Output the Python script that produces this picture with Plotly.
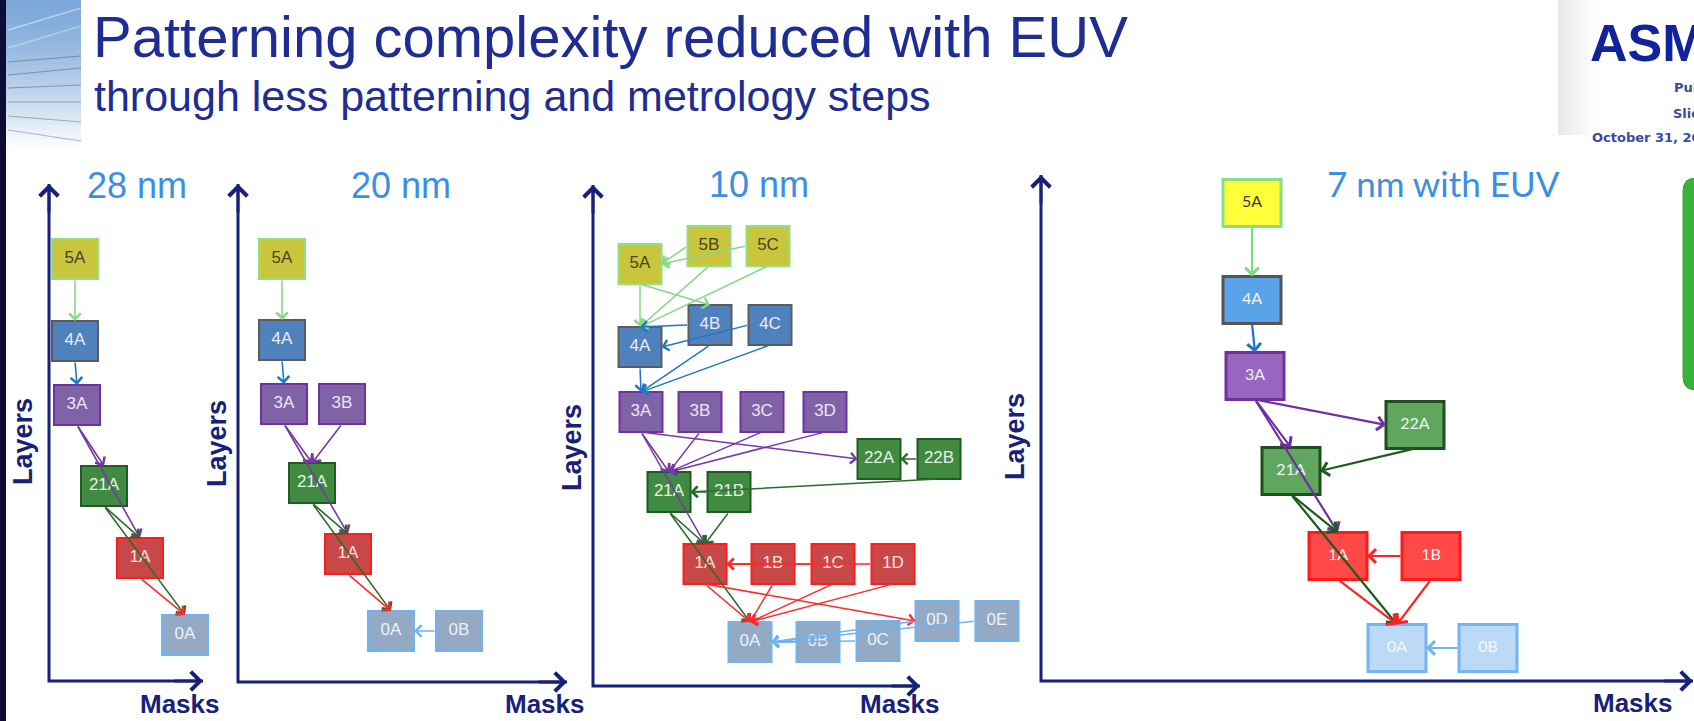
import plotly.graph_objects as go

W, H = 1694, 721
UNIT = 10.0  # pixels per data unit on every panel

# ---------------- data ----------------
# Each node: name, position along "Masks" and "Layers" (data units)
N28_NAMES = ["5A", "4A", "3A", "21A", "1A", "0A"]
N28_MASKS = [2.6, 2.6, 2.8, 5.5, 9.1, 13.6]
N28_LAYERS = [42.2, 34.0, 27.6, 19.5, 12.3, 4.6]
E28 = [("5A", "4A"), ("4A", "3A"), ("3A", "21A"), ("3A", "1A"),
       ("21A", "1A"), ("21A", "0A"), ("1A", "0A")]

N20_NAMES = ["5A", "4A", "3A", "3B", "21A", "1A", "0A", "0B"]
N20_MASKS = [4.4, 4.4, 4.6, 10.4, 7.4, 11.0, 15.3, 22.1]
N20_LAYERS = [42.3, 34.2, 27.8, 27.8, 19.9, 12.8, 5.1, 5.1]
E20 = [("5A", "4A"), ("4A", "3A"), ("3A", "21A"), ("3B", "21A"), ("3A", "1A"),
       ("21A", "1A"), ("21A", "0A"), ("1A", "0A"), ("0B", "0A")]

N10_NAMES = ["5A", "5B", "5C", "4A", "4B", "4C", "3A", "3B", "3C", "3D",
             "22A", "22B", "21A", "21B", "1A", "1B", "1C", "1D",
             "0A", "0B", "0C", "0D", "0E"]
N10_MASKS = [4.7, 11.6, 17.5, 4.7, 11.7, 17.7, 4.8, 10.7, 16.9, 23.2,
             28.6, 34.6, 7.6, 13.6, 11.2, 18.0, 24.0, 30.0,
             15.7, 22.5, 28.5, 34.4, 40.4]
N10_LAYERS = [42.2, 44.0, 44.0, 33.9, 36.1, 36.1, 27.4, 27.4, 27.4, 27.4,
              22.7, 22.7, 19.4, 19.4, 12.2, 12.2, 12.2, 12.2,
              4.4, 4.4, 4.5, 6.5, 6.5]
E10 = [("5B", "5A"), ("5C", "5A"), ("5A", "4A"), ("5B", "4A"), ("5C", "4A"), ("5A", "4B"),
       ("4B", "4A"), ("4C", "4A"), ("4A", "3A"), ("4B", "3A"), ("4C", "3A"),
       ("3A", "21A"), ("3B", "21A"), ("3C", "21A"), ("3D", "21A"), ("3A", "22A"), ("3A", "1A"),
       ("22B", "22A"), ("22B", "21A"), ("21B", "21A"), ("21A", "1A"), ("21B", "1A"), ("21A", "0A"),
       ("1B", "1A"), ("1C", "1A"), ("1D", "1A"), ("1A", "0A"), ("1B", "0A"), ("1C", "0A"),
       ("1D", "0A"), ("1A", "0D"),
       ("0B", "0A"), ("0C", "0A"), ("0D", "0A"), ("0E", "0A")]

N7_NAMES = ["5A", "4A", "3A", "22A", "21A", "1A", "1B", "0A", "0B"]
N7_MASKS = [21.1, 21.1, 21.4, 37.4, 25.0, 29.7, 39.0, 35.6, 44.7]
N7_LAYERS = [47.8, 38.1, 30.5, 25.6, 21.0, 12.5, 12.5, 3.3, 3.3]
E7 = [("5A", "4A"), ("4A", "3A"), ("3A", "21A"), ("3A", "22A"), ("22A", "21A"),
      ("3A", "1A"), ("21A", "1A"), ("21A", "0A"), ("1B", "1A"), ("1A", "0A"),
      ("1B", "0A"), ("0B", "0A")]

PANEL_TITLES = ["28 nm", "20 nm", "10 nm", "7 nm with EUV"]

PANEL_DATA = [
    (N28_NAMES, N28_MASKS, N28_LAYERS, E28),
    (N20_NAMES, N20_MASKS, N20_LAYERS, E20),
    (N10_NAMES, N10_MASKS, N10_LAYERS, E10),
    (N7_NAMES, N7_MASKS, N7_LAYERS, E7),
]

# ---------------- styling ----------------
NAVY = "#18217a"
TITLE_BLUE = "#1e2c93"
PANEL_BLUE = "#3a8fe3"

CLASSIC = {  # fill, border, label colour, edge colour
    "5": ("#c9c53c", "#8fe07e", "#47441e", "#86d886"),
    "4": ("#4f81bd", "#5c5c5c", "#e8eef8", "#1f77c4"),
    "3": ("#8063a6", "#7030a0", "#ece6f4", "#7638a8"),
    "2": ("#418a41", "#1f5c1f", "#e6f0e6", "#2c6a2c"),
    "1": ("#c84848", "#ff1c1c", "#f6e6e6", "#ff2a2a"),
    "0": ("#93a9c4", "#6fb3f0", "#eef2f8", "#6db4f0"),
}
EUV = {
    "5": ("#ffff3c", "#86e080", "#3a3a2a", "#78e078"),
    "4": ("#5ba3e8", "#555555", "#eef4fc", "#1a73c4"),
    "3": ("#9966c0", "#7030a0", "#f2ecf8", "#7030a0"),
    "2": ("#5fa65f", "#1e4f1e", "#eef6ee", "#1e5a1e"),
    "1": ("#ff4848", "#ff1a1a", "#fff0f0", "#ff2222"),
    "0": ("#bcd9f5", "#73b4f2", "#f4f9ff", "#6db4f0"),
}

PANEL_STYLE = [
    dict(corner=(49, 681), span=(0, 240), top=184, right=203, box=(46, 40),
         palette=CLASSIC, border=2, ew=1.6, es=1.4, font=("Liberation Sans", 17),
         title=(137, 185, "Liberation Sans", 36), layers=(23, 442), masks=(180, 704)),
    dict(corner=(238, 682), span=(200, 585), top=184, right=567, box=(46, 40),
         palette=CLASSIC, border=2, ew=1.6, es=1.4, font=("Liberation Sans", 17),
         title=(401, 185, "Liberation Sans", 36), layers=(217, 443), masks=(545, 704)),
    dict(corner=(593, 686), span=(560, 1030), top=185, right=920, box=(43, 40),
         palette=CLASSIC, border=2, ew=1.5, es=1.4, font=("Liberation Sans", 17),
         title=(759, 184, "Liberation Sans", 36), layers=(572, 448), masks=(900, 704)),
    dict(corner=(1041, 681), span=(1005, 1694), top=175, right=1693, box=(58, 47),
         palette=EUV, border=3, ew=2.2, es=1.2, font=("Lato", 16),
         title=(1443, 183, "Lato", 35), layers=(1015, 437), masks=(1633, 703)),
]

fig = go.Figure()
shapes, annotations, axes = [], [], {}


def px_x(px):
    return px / W


def px_y(py):
    return 1 - py / H


def edge_ports(s, d, hw, hh):
    sx, sy = s
    dx, dy = d
    if sy - dy > 1.2 * hh:
        tail = (sx, sy - hh)
    else:
        tail = (sx - hw if dx < sx else sx + hw, sy)
    vx, vy = dx - tail[0], tail[1] - dy
    if vy > hh and vy > 0.35 * abs(vx):
        head = (dx, dy + hh)
    else:
        head = (dx + hw if dx < tail[0] else dx - hw, dy)
    return tail, head


for i, ((names, masks, layers, edges), st) in enumerate(zip(PANEL_DATA, PANEL_STYLE)):
    k = "" if i == 0 else str(i + 1)
    xa, ya = "x" + k, "y" + k
    cx, cy = st["corner"]
    xl, xr = st["span"]
    yt, yb = 140, 721
    axes["xaxis" + k] = dict(domain=[px_x(xl), px_x(xr)], range=[(xl - cx) / UNIT, (xr - cx) / UNIT],
                             visible=False, fixedrange=True, anchor=ya)
    axes["yaxis" + k] = dict(domain=[px_y(yb), px_y(yt)], range=[(cy - yb) / UNIT, (cy - yt) / UNIT],
                             visible=False, fixedrange=True, anchor=xa)

    top_len = (cy - st["top"]) / UNIT
    right_len = (st["right"] - cx) / UNIT

    # axes drawn as an L with arrow tips
    fig.add_trace(go.Scatter(x=[0, 0, right_len], y=[top_len, 0, 0], mode="lines",
                             line=dict(color=NAVY, width=3), xaxis=xa, yaxis=ya,
                             hoverinfo="skip", showlegend=False, cliponaxis=False))
    for (hx, hy, tx, ty) in [(0, top_len, 0, top_len - 3), (right_len, 0, right_len - 3, 0)]:
        annotations.append(dict(x=hx, y=hy, ax=tx, ay=ty, xref=xa, yref=ya, axref=xa, ayref=ya,
                                text="", showarrow=True, arrowhead=4, arrowsize=1.2,
                                arrowwidth=3, arrowcolor=NAVY, standoff=0))

    pal = st["palette"]
    hw = st["box"][0] / 2 / UNIT
    hh = st["box"][1] / 2 / UNIT
    pos = {n: (m, l) for n, m, l in zip(names, masks, layers)}

    # boxes
    for n, m, l in zip(names, masks, layers):
        fill, border, _, _ = pal[n[0]]
        shapes.append(dict(type="rect", xref=xa, yref=ya, x0=m - hw, x1=m + hw, y0=l - hh, y1=l + hh,
                           fillcolor=fill, line=dict(color=border, width=st["border"]), layer="below"))

    # labels
    fam, size = st["font"]
    fig.add_trace(go.Scatter(x=masks, y=layers, mode="text", text=names,
                             textfont=dict(family=fam, size=size, color=[pal[n[0]][2] for n in names]),
                             textposition="middle center", xaxis=xa, yaxis=ya,
                             hoverinfo="skip", showlegend=False, cliponaxis=False))

    # flow arrows
    for s, d in edges:
        tail, head = edge_ports(pos[s], pos[d], hw, hh)
        annotations.append(dict(x=head[0], y=head[1], ax=tail[0], ay=tail[1],
                                xref=xa, yref=ya, axref=xa, ayref=ya, text="", showarrow=True,
                                arrowhead=4, arrowsize=st["es"], arrowwidth=st["ew"],
                                arrowcolor=pal[s[0]][3], standoff=0))

    # panel texts
    tx, ty, tfam, tsize = st["title"]
    annotations.append(dict(x=px_x(tx), y=px_y(ty), xref="paper", yref="paper", text=PANEL_TITLES[i],
                            showarrow=False, xanchor="center", yanchor="middle",
                            font=dict(family=tfam, size=tsize, color=PANEL_BLUE)))
    lx, ly = st["layers"]
    annotations.append(dict(x=px_x(lx), y=px_y(ly), xref="paper", yref="paper", text="<b>Layers</b>",
                            showarrow=False, textangle=-90, xanchor="center", yanchor="middle",
                            font=dict(family="Liberation Sans", size=27, color=NAVY)))
    mx, my = st["masks"]
    annotations.append(dict(x=px_x(mx), y=px_y(my), xref="paper", yref="paper", text="<b>Masks</b>",
                            showarrow=False, xanchor="center", yanchor="middle",
                            font=dict(family="Liberation Sans", size=26, color=NAVY)))

# ---------------- slide frame ----------------
# top-left decorative gradient
steps = 29
for j in range(steps):
    y0, y1 = j * 5, j * 5 + 5
    t = min(1.0, (j / steps) ** 1.4)
    r = int(125 + (255 - 125) * t)
    g = int(168 + (255 - 168) * t)
    b = int(218 + (255 - 218) * t)
    shapes.append(dict(type="rect", xref="paper", yref="paper", x0=px_x(5), x1=px_x(81),
                       y0=px_y(y1), y1=px_y(y0), fillcolor=f"rgb({r},{g},{b})",
                       line=dict(width=0), layer="below"))
for (xa0, ya0, xa1, ya1, col, wd) in [
        (8, 62, 81, 56, "rgba(95,105,130,0.6)", 1.2), (8, 75, 81, 68, "rgba(95,105,130,0.6)", 1.2),
        (8, 88, 81, 85, "rgba(95,105,130,0.6)", 1.2), (8, 102, 81, 102, "rgba(95,105,130,0.55)", 1.2),
        (8, 116, 81, 122, "rgba(95,105,130,0.5)", 1.2), (8, 130, 81, 141, "rgba(95,105,130,0.45)", 1.2),
        (8, 30, 81, 8, "rgba(255,255,255,0.45)", 1.5), (8, 48, 81, 26, "rgba(255,255,255,0.35)", 1.5)]:
    shapes.append(dict(type="line", xref="paper", yref="paper", x0=px_x(xa0), y0=px_y(ya0),
                       x1=px_x(xa1), y1=px_y(ya1), line=dict(color=col, width=wd), layer="below"))
# dark left edge
shapes.append(dict(type="rect", xref="paper", yref="paper", x0=0, x1=px_x(6), y0=0, y1=1,
                   fillcolor="#0c0c36", line=dict(width=0), layer="below"))

# soft shadow beside the logo panel
for j in range(9):
    shapes.append(dict(type="rect", xref="paper", yref="paper", x0=px_x(1558 + 4 * j),
                       x1=px_x(1562 + 4 * j), y0=px_y(135), y1=1,
                       fillcolor=f"rgba(120,120,120,{0.16 * (1 - j / 9):.3f})",
                       line=dict(width=0), layer="below"))


def rounded_rect(x0, y0, x1, y1, r):
    def p(x, y):
        return f"{px_x(x):.5f},{px_y(y):.5f}"
    return (f"M {p(x0 + r, y0)} L {p(x1, y0)} L {p(x1, y1)} L {p(x0 + r, y1)} "
            f"Q {p(x0, y1)} {p(x0, y1 - r)} L {p(x0, y0 + r)} Q {p(x0, y0)} {p(x0 + r, y0)} Z")


shapes.append(dict(type="path", xref="paper", yref="paper", path=rounded_rect(1683, 178, 1730, 390, 13),
                   fillcolor="#3bb23b", line=dict(color="#36a836", width=1), layer="below"))

# headline texts
annotations.append(dict(x=px_x(91), y=px_y(37), xref="paper", yref="paper",
                        text="Patterning complexity reduced with EUV", showarrow=False,
                        xanchor="left", yanchor="middle",
                        font=dict(family="Liberation Sans", size=58, color=TITLE_BLUE)))
annotations.append(dict(x=px_x(92), y=px_y(96), xref="paper", yref="paper",
                        text="through less patterning and metrology steps", showarrow=False,
                        xanchor="left", yanchor="middle",
                        font=dict(family="Liberation Sans", size=43, color=TITLE_BLUE)))

# company block
annotations.append(dict(x=px_x(1588), y=px_y(43), xref="paper", yref="paper", text="<b>ASML</b>",
                        showarrow=False, xanchor="left", yanchor="middle",
                        font=dict(family="Liberation Sans", size=52, color="#10239a")))
for (txt, x, y) in [("Public", 1672, 88), ("Slide", 1671, 113), ("October 31, 2016", 1590, 137)]:
    annotations.append(dict(x=px_x(x), y=px_y(y), xref="paper", yref="paper", text=f"<b>{txt}</b>",
                            showarrow=False, xanchor="left", yanchor="middle",
                            font=dict(family="DejaVu Sans", size=13, color="#3a4a9c")))

fig.update_layout(
    width=W, height=H, margin=dict(l=0, r=0, t=0, b=0),
    paper_bgcolor="white", plot_bgcolor="rgba(0,0,0,0)",
    showlegend=False, shapes=shapes, annotations=annotations, **axes,
)

fig.write_html("out.html")
